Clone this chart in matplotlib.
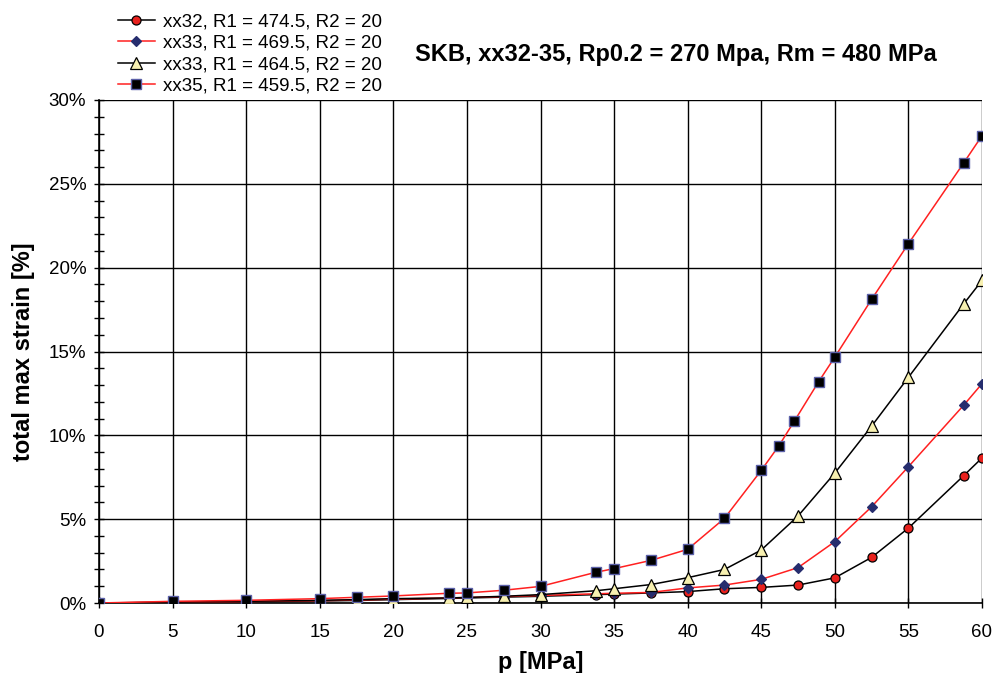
import matplotlib
matplotlib.use("Agg")
import matplotlib.pyplot as plt
from matplotlib.ticker import MultipleLocator, FuncFormatter

plt.rcParams['font.family'] = ['Liberation Sans', 'DejaVu Sans']

# Data (strain in %)
p_common = [0, 5, 10, 15, 17.5, 20, 23.75, 25, 27.5, 30, 33.75, 35, 37.5, 40,
            42.5, 45, 47.5, 50, 52.5, 55, 58.75, 60]
xx32_vals = [0, 0.03, 0.07, 0.12, 0.15, 0.2, 0.27, 0.3, 0.35, 0.4, 0.5, 0.53, 0.6, 0.68,
             0.85, 0.93, 1.07, 1.5, 2.72, 4.47, 7.59, 8.65]
xx33a_vals = [0, 0.04, 0.09, 0.14, 0.18, 0.23, 0.3, 0.33, 0.38, 0.45, 0.55, 0.58, 0.63, 0.9,
              1.07, 1.41, 2.11, 3.66, 5.74, 8.13, 11.79, 13.08]
xx33b_vals = [0, 0.05, 0.1, 0.16, 0.2, 0.26, 0.3, 0.33, 0.4, 0.5, 0.73, 0.85, 1.1, 1.51,
              2.0, 3.16, 5.19, 7.75, 10.55, 13.46, 17.83, 19.24]
p_xx35 = [0, 5, 10, 15, 17.5, 20, 23.75, 25, 27.5, 30, 33.75, 35, 37.5, 40,
          42.5, 45, 46.2, 47.25, 48.9, 50, 52.5, 55, 58.75, 60]
xx35_vals = [0, 0.1, 0.16, 0.26, 0.34, 0.42, 0.58, 0.6, 0.76, 0.99, 1.83, 2.05, 2.54, 3.2,
             5.05, 7.91, 9.38, 10.85, 13.2, 14.67, 18.11, 21.43, 26.24, 27.87]

labels = ["xx32, R1 = 474.5, R2 = 20", "xx33, R1 = 469.5, R2 = 20",
          "xx33, R1 = 464.5, R2 = 20", "xx35, R1 = 459.5, R2 = 20"]
title = "SKB, xx32-35, Rp0.2 = 270 Mpa, Rm = 480 MPa"

fig = plt.figure(figsize=(9.94, 6.73), dpi=100)
ax = fig.add_axes([99/994, 1-603/673, (982-99)/994, (603-100)/673])

h1, = ax.plot(p_common, xx32_vals, color='black', lw=1.1, marker='o', ms=6.5,
              mfc='#e8211d', mec='black', mew=0.9, label=labels[0], zorder=3)
h2, = ax.plot(p_common, xx33a_vals, color='#ff2020', lw=1.1, marker='D', ms=5.5,
              mfc='#262d6e', mec='#262d6e', mew=0.9, label=labels[1], zorder=4)
h3, = ax.plot(p_common, xx33b_vals, color='black', lw=1.1, marker='^', ms=8,
              mfc='#f7f0b0', mec='black', mew=0.9, label=labels[2], zorder=5)
h4, = ax.plot(p_xx35, xx35_vals, color='#ff2020', lw=1.1, marker='s', ms=6.8,
              mfc='black', mec='#5b60a8', mew=1.0, label=labels[3], zorder=6)

ax.set_xlim(0, 60)
ax.set_ylim(0, 30)
ax.xaxis.set_major_locator(MultipleLocator(5))
ax.yaxis.set_major_locator(MultipleLocator(5))
ax.yaxis.set_minor_locator(MultipleLocator(1))
ax.yaxis.set_major_formatter(FuncFormatter(lambda v, pos: f"{int(round(v))}%"))
ax.grid(True, which='major', color='black', lw=1.0)
ax.set_axisbelow(True)
for s in ['top', 'right']:
    ax.spines[s].set_visible(False)
for s in ['left', 'bottom']:
    ax.spines[s].set_linewidth(1.2)
    ax.spines[s].set_color('black')
ax.tick_params(axis='both', which='major', direction='inout', length=6.5, width=1,
               labelsize=13.5)
ax.tick_params(axis='y', which='minor', direction='inout', length=6.5, width=1)
ax.tick_params(axis='y', which='major', pad=6)
ax.tick_params(axis='x', which='major', pad=12)
ax.set_xlabel("p [MPa]", fontsize=17, fontweight='bold', labelpad=7)
ax.set_ylabel("total max strain [%]", fontsize=17, fontweight='bold', labelpad=10)

fig.text(676/994, 1-55/673, title, fontsize=17, fontweight='bold',
         ha='center', va='center')

fig.legend(handles=[h1, h2, h3, h4], loc='upper left',
           bbox_to_anchor=(110/994, 1-6/673), frameon=False, fontsize=13.5,
           handlelength=2.0, handletextpad=0.45, labelspacing=0.22,
           borderaxespad=0)

fig.savefig("out.png", dpi=100)
